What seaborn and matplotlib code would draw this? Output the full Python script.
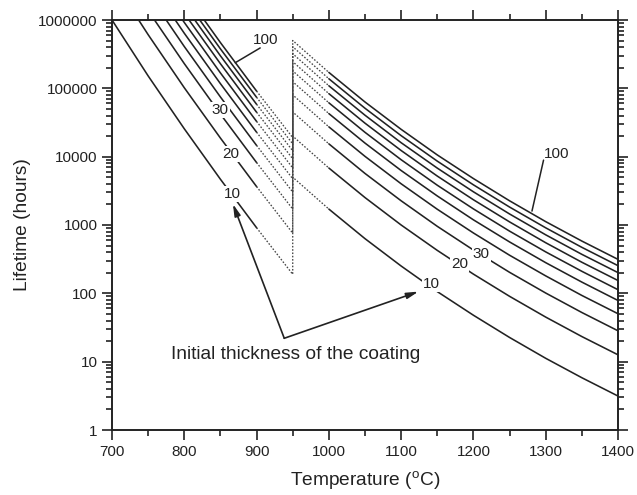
import numpy as np
import pandas as pd
import matplotlib
matplotlib.use("Agg")
import matplotlib.pyplot as plt
import seaborn as sns
from matplotlib.ticker import FixedLocator, LogLocator, NullFormatter, MultipleLocator, FuncFormatter

# ---------------- data ----------------
thickness = [10, 20, 30, 40, 50, 60, 70, 80, 90, 100]

# low-temperature regime (solid 700-900, dotted 900-950)
temp_low = [700, 750, 800, 850, 900, 950]
life_low = [
    [1.0e6, 1.52e5, 2.56e4, 4670, 912, 190],
    [4.0e6, 6.1e5, 1.02e5, 1.87e4, 3650, 760],
    [9.0e6, 1.37e6, 2.30e5, 4.2e4, 8200, 1710],
    [1.6e7, 2.44e6, 4.09e5, 7.47e4, 1.46e4, 3040],
    [2.5e7, 3.81e6, 6.4e5, 1.17e5, 2.28e4, 4750],
    [3.6e7, 5.49e6, 9.21e5, 1.68e5, 3.28e4, 6840],
    [4.9e7, 7.47e6, 1.25e6, 2.29e5, 4.47e4, 9310],
    [6.4e7, 9.75e6, 1.64e6, 2.99e5, 5.84e4, 1.22e4],
    [8.1e7, 1.23e7, 2.07e6, 3.78e5, 7.39e4, 1.54e4],
    [1.0e8, 1.52e7, 2.56e6, 4.67e5, 9.12e4, 1.90e4],
]

# high-temperature regime (dotted 950-1000, solid 1000-1400)
temp_high = [950, 1000, 1050, 1100, 1150, 1200, 1250, 1300, 1350, 1400]
life_high = [
    [5010, 1710, 631, 251, 106, 47.8, 22.6, 11.2, 5.82, 3.14],
    [20000, 6820, 2520, 1000, 425, 191, 90.4, 44.9, 23.3, 12.6],
    [45100, 15400, 5680, 2260, 956, 430, 203, 101, 52.4, 28.3],
    [80200, 27300, 10100, 4010, 1700, 764, 361, 180, 93.1, 50.3],
    [125000, 42700, 15800, 6270, 2660, 1190, 565, 281, 146, 78.6],
    [180000, 61400, 22700, 9020, 3820, 1720, 813, 404, 210, 113],
    [246000, 83600, 30900, 12300, 5200, 2340, 1110, 550, 285, 154],
    [321000, 109000, 40400, 16000, 6800, 3060, 1450, 718, 372, 201],
    [406000, 138000, 51100, 20300, 8600, 3870, 1830, 909, 471, 254],
    [501000, 171000, 63100, 25100, 10600, 4780, 2260, 1120, 582, 314],
]

x_ticks = [700, 800, 900, 1000, 1100, 1200, 1300, 1400]
y_ticks = [1, 10, 100, 1000, 10000, 100000, 1000000]

# ---------------- style ----------------
sns.set_style("ticks")
plt.rcParams['font.family'] = ['Liberation Sans', 'DejaVu Sans']
plt.rcParams['mathtext.fontset'] = 'custom'
plt.rcParams['mathtext.rm'] = 'Liberation Sans'

ink = "#222222"
fig = plt.figure(figsize=(6.37, 4.95), dpi=100)
ax = fig.add_axes([112 / 637, 1 - 430 / 495, (618 - 112) / 637, (430 - 20) / 495])

solid_kw = dict(color=ink, linewidth=1.15, estimator=None, sort=False, legend=False)
dot_kw = dict(color="#444444", linewidth=0.95, estimator=None, sort=False, legend=False)

for h, lo, hi in zip(thickness, life_low, life_high):
    # solid low-T part
    sns.lineplot(x=temp_low[:5], y=lo[:5], ax=ax, **solid_kw)
    # dotted transition part, including the jump at 950 C
    tx = [temp_low[4], temp_low[5], temp_high[0], temp_high[1]]
    ty = [lo[4], lo[5], hi[0], hi[1]]
    sns.lineplot(x=tx, y=ty, ax=ax, linestyle=(0, (1.2, 1.3)), **dot_kw)
    # solid high-T part
    sns.lineplot(x=temp_high[1:], y=hi[1:], ax=ax, **solid_kw)

ax.set_yscale("log")
ax.set_xlim(700, 1400)
ax.set_ylim(1, 1e6)

ax.xaxis.set_major_locator(FixedLocator(x_ticks))
ax.xaxis.set_minor_locator(MultipleLocator(50))
ax.yaxis.set_major_locator(FixedLocator(y_ticks))
ax.yaxis.set_major_formatter(FuncFormatter(lambda v, p: f"{int(round(v))}"))
ax.yaxis.set_minor_locator(LogLocator(base=10, subs=np.arange(2, 10), numticks=20))
ax.yaxis.set_minor_formatter(NullFormatter())

for s in ax.spines.values():
    s.set_linewidth(1.4)
    s.set_color(ink)
ax.tick_params(which="both", direction="out", top=True, right=True,
               color=ink, width=1.2, labelsize=11, labelcolor=ink)
ax.tick_params(which="major", length=7)
ax.tick_params(which="minor", length=4)

ax.set_xlabel("Temperature ($^{\\rm o}$C)", fontsize=13.8, color=ink, labelpad=8)
ax.set_ylabel("Lifetime (hours)", fontsize=13.8, color=ink, labelpad=5)

# ---------------- curve labels ----------------
lab_kw = dict(fontsize=11, color=ink, ha="center", va="center",
              bbox=dict(facecolor="white", edgecolor="none", pad=0.6))
ax.text(866, 2840, "10", **lab_kw)
ax.text(864.5, 1.09e4, "20", **lab_kw)
ax.text(850, 4.8e4, "30", **lab_kw)
ax.text(1142, 137, "10", **lab_kw)
ax.text(1181, 266, "20", **lab_kw)
ax.text(1211, 377, "30", **lab_kw)

ax.text(913, 5.1e5, "100", fontsize=11, color=ink, ha="center", va="center")
ax.plot([905, 870.5], [3.9e5, 2.37e5], color=ink, lw=1.1)
ax.text(1315, 1.09e4, "100", fontsize=11, color=ink, ha="center", va="center")
ax.plot([1297, 1281], [8.9e3, 1.6e3], color=ink, lw=1.1)

# ---------------- annotation ----------------
ax.text(781, 12.9, "Initial thickness of the coating", fontsize=13.8, color=ink,
        ha="left", va="center")
arrow_kw = dict(arrowstyle="-|>,head_length=0.7,head_width=0.18", color=ink, lw=1.2,
                shrinkA=0, shrinkB=0)
ax.annotate("", xy=(867.3, 2030), xytext=(938.3, 22), arrowprops=arrow_kw)
ax.annotate("", xy=(1123.9, 106), xytext=(938.3, 22), arrowprops=arrow_kw)

fig.savefig("out.png", dpi=100)
